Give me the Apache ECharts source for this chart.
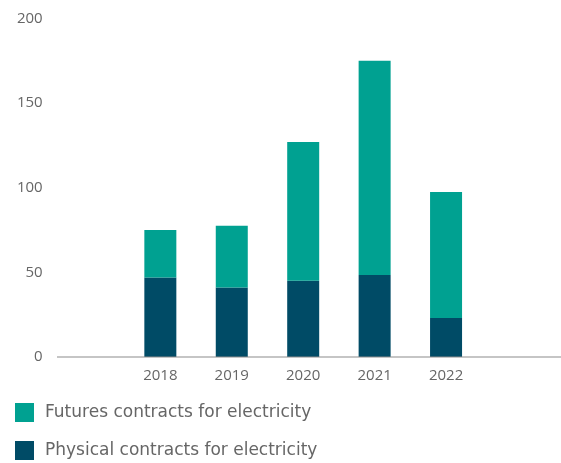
<!DOCTYPE html>
<html>
<head>
<meta charset="utf-8">
<script src="https://cdn.jsdelivr.net/npm/echarts@6/dist/echarts.min.js"></script>
<style>
  html, body { margin: 0; padding: 0; background: #ffffff; }
  #chart { width: 561px; height: 463px; }
</style>
</head>
<body>
<div id="chart"></div>
<script>
// Contract volumes per year
const years = ['2018', '2019', '2020', '2021', '2022'];
const physicalContracts = [47, 41, 45, 48.5, 23];
const futuresContracts = [28, 36.5, 82, 126.5, 74.5];
const yTicks = [0, 50, 100, 150, 200];

const FONT = '"Open Sans", "Noto Sans", sans-serif';
const LEGEND_FONT = '"DejaVu Sans", "Open Sans", sans-serif';
const TEXT_COLOR = '#666666';

// one empty slot on either side of the years
const categories = [''].concat(years, ['']);
const pad = arr => ['-'].concat(arr, ['-']);

const chart = echarts.init(document.getElementById('chart'), null, { renderer: 'canvas' });

chart.setOption({
  animation: false,
  backgroundColor: '#ffffff',
  textStyle: { fontFamily: FONT },
  grid: { left: 53.2, right: 7.8, top: 18.4, bottom: 106, containLabel: false },
  legend: {
    orient: 'vertical',
    left: 15,
    top: 403,
    padding: 0,
    height: 60,
    itemWidth: 19,
    itemHeight: 19,
    itemGap: 19,
    icon: 'rect',
    textStyle: { fontFamily: LEGEND_FONT, fontSize: 17, color: TEXT_COLOR, padding: [0, 0, 0, 6] },
    data: ['Futures contracts for electricity', 'Physical contracts for electricity']
  },
  xAxis: {
    type: 'category',
    data: categories,
    axisLine: { show: false },
    axisTick: { show: false },
    axisLabel: { fontFamily: FONT, fontSize: 15, color: TEXT_COLOR, margin: 11 }
  },
  yAxis: {
    type: 'value',
    min: yTicks[0],
    max: yTicks[yTicks.length - 1],
    interval: 50,
    axisLine: { show: false },
    axisTick: { show: false },
    splitLine: { show: false },
    axisLabel: { fontFamily: FONT, fontSize: 15, color: TEXT_COLOR, margin: 10.5, padding: [0, 0, 6, 0] }
  },
  series: [
    {
      name: 'Physical contracts for electricity',
      type: 'bar',
      stack: 'total',
      barWidth: 32,
      itemStyle: { color: '#004b66' },
      data: pad(physicalContracts)
    },
    {
      name: 'Futures contracts for electricity',
      type: 'bar',
      stack: 'total',
      barWidth: 32,
      itemStyle: { color: '#00a191' },
      data: pad(futuresContracts)
    }
  ]
});

// baseline rule running from the value labels to the right edge
const baseY = chart.convertToPixel({ yAxisIndex: 0 }, 0);
chart.setOption({
  graphic: [{
    type: 'line',
    shape: { x1: 57, y1: baseY, x2: 561, y2: baseY },
    style: { stroke: '#8c8c8c', lineWidth: 1.2 },
    z: 10
  }]
});
</script>
</body>
</html>
